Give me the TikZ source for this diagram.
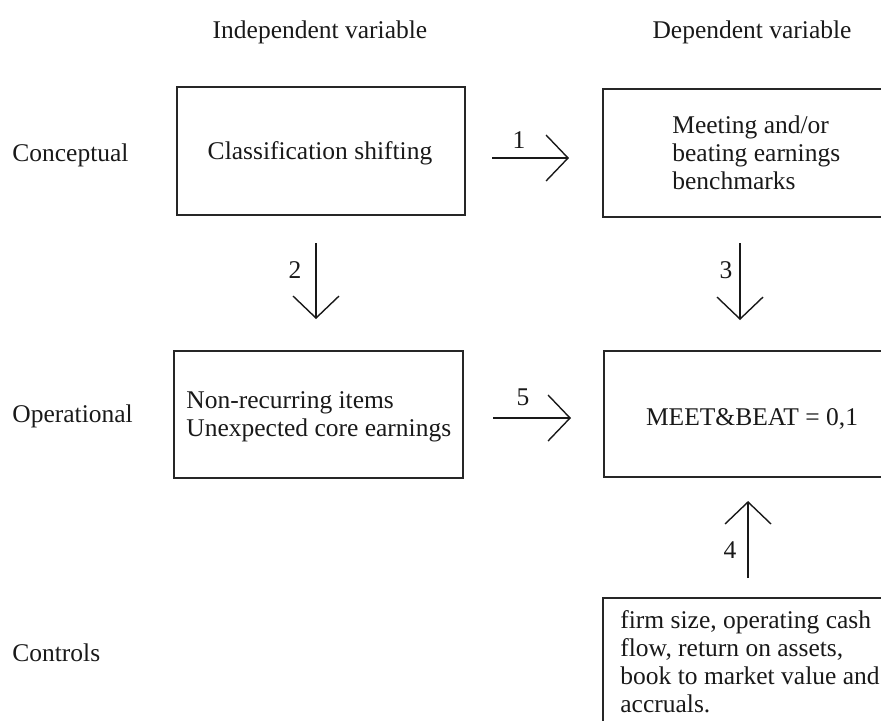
\documentclass[tikz,border=0pt]{standalone}
\usepackage{fontspec}
\setmainfont{Liberation Serif}
\usetikzlibrary{arrows.meta}
\tikzset{
  box/.style={draw=black!85, line width=1pt, rectangle, inner sep=0pt},
  txt/.style={anchor=base west, inner sep=0pt, text=black!90},
  ctxt/.style={anchor=base, inner sep=0pt, text=black!90},
  arr/.style={line width=0.7pt, draw=black!90, -{Straight Barb[length=11pt,width=23pt,line width=0.7pt]}},
}
\begin{document}
\begin{tikzpicture}[x=0.5pt,y=-0.5pt,font=\fontsize{12.75}{14}\selectfont]
\useasboundingbox (0,0) rectangle (881,720);
\clip (0,0) rectangle (881,720);

% headers and row labels
\node[ctxt] (hind) at (320,38) {Independent variable};
\node[ctxt] (hdep) at (752,38) {Dependent variable};
\node[txt] (rcon) at (12,161) {Conceptual};
\node[txt] (rope) at (12,422) {Operational};
\node[txt] (rctl) at (12,661) {Controls};

% boxes
\node[box, minimum width=144pt, minimum height=64pt] (b1) at (321,151) {};
\node[box, minimum width=148.5pt, minimum height=64pt] (b2) at (751.5,153) {};
\node[box, minimum width=144.5pt, minimum height=63.5pt] (b3) at (318.5,414.5) {};
\node[box, minimum width=148pt, minimum height=63pt] (b4) at (752,414) {};
\node[box, minimum width=148.5pt, minimum height=71pt] (b5) at (751.5,669) {};

% box texts
\node[ctxt] (t1) at (320,159) {Classification shifting};
\node[txt] (t2a) at (672,133) {Meeting and/or};
\node[txt] (t2b) at (672,161) {beating earnings};
\node[txt] (t2c) at (672,189) {benchmarks};
\node[txt] (t3a) at (186,408) {Non-recurring items};
\node[txt] (t3b) at (186,436) {Unexpected core earnings};
\node[ctxt] (t4) at (752,425) {MEET\&BEAT = 0,1};
\node[txt] (t5a) at (620,628) {firm size, operating cash};
\node[txt] (t5b) at (620,656) {flow, return on assets,};
\node[txt] (t5c) at (620,684) {book to market value and};
\node[txt] (t5d) at (620,712) {accruals.};

% arrows
\coordinate (a1s) at (492,158); \coordinate (a1e) at (569,158);
\coordinate (a2s) at (316,243); \coordinate (a2e) at (316,319);
\coordinate (a3s) at (740,243); \coordinate (a3e) at (740,320);
\coordinate (a4s) at (748,578); \coordinate (a4e) at (748,501);
\coordinate (a5s) at (493,418); \coordinate (a5e) at (571,418);
\draw[arr] (a1s) -- (a1e);
\draw[arr] (a2s) -- (a2e);
\draw[arr] (a3s) -- (a3e);
\draw[arr] (a4s) -- (a4e);
\draw[arr] (a5s) -- (a5e);
\node[ctxt] (l1) at (519,148) {1};
\node[ctxt] (l2) at (295,278) {2};
\node[ctxt] (l3) at (726,278) {3};
\node[ctxt] (l4) at (730,558) {4};
\node[ctxt] (l5) at (523,405) {5};
\end{tikzpicture}
\end{document}
